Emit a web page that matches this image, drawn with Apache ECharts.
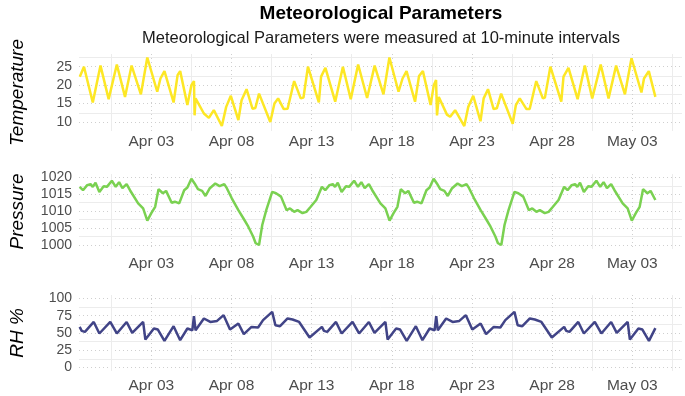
<!DOCTYPE html>
<html>
<head>
<meta charset="utf-8">
<script src="https://cdn.jsdelivr.net/npm/echarts@6/dist/echarts.min.js"></script>
<style>
  html, body { margin: 0; padding: 0; background: #fff; }
  #chart { width: 685px; height: 396px; }
</style>
</head>
<body>
<div id="chart"></div>
<script>
// x values are days counted from Mar 29, 00:00 (UTC)
const startDate = Date.UTC(2021, 2, 29)
const monthNames = ['Jan', 'Feb', 'Mar', 'Apr', 'May', 'Jun', 'Jul', 'Aug', 'Sep', 'Oct', 'Nov', 'Dec']
const dayTicks = [5, 10, 15, 20, 25, 30, 35]
const dayMinor = [2.5, 7.5, 12.5, 17.5, 22.5, 27.5, 32.5, 37.5]

const temperature = [
  [0.54, 22.3], [0.80, 25.0], [1.35, 15.3], [1.83, 25.3], [2.34, 16.2], [2.85, 25.6], [3.36, 16.8], [3.77, 25.3],
  [4.35, 17.5], [4.75, 27.5], [5.37, 18.2], [5.57, 21.8], [5.82, 23.8], [6.39, 15.3], [6.64, 22.7], [6.80, 23.8],
  [7.25, 14.6], [7.50, 20.0], [7.66, 21.1], [7.70, 11.8], [7.76, 16.4], [8.28, 12.3], [8.59, 11.1], [8.90, 13.2],
  [9.40, 8.9], [9.67, 14.1], [9.96, 17.1], [10.43, 10.5], [10.63, 15.9], [10.94, 18.9], [11.31, 13.6], [11.49, 13.8],
  [11.72, 17.7], [12.42, 10.0], [12.68, 15.0], [12.91, 16.4], [13.26, 13.5], [13.50, 13.6], [13.91, 21.1], [14.32, 16.4],
  [14.49, 16.6], [14.77, 25.0], [15.45, 15.3], [15.59, 22.3], [15.86, 24.7], [16.47, 15.5], [16.95, 25.0], [17.44, 16.2],
  [17.90, 25.6], [18.46, 16.5], [18.93, 25.3], [19.48, 17.5], [19.85, 27.5], [20.42, 18.2], [20.67, 21.8], [20.92, 23.8],
  [21.45, 15.5], [21.70, 22.5], [21.94, 23.8], [22.42, 14.6], [22.62, 20.0], [22.76, 21.4], [22.82, 11.8], [22.93, 16.8],
  [23.44, 12.0], [23.64, 11.4], [23.95, 13.2], [24.52, 8.9], [24.77, 14.1], [25.08, 17.1], [25.53, 10.2], [25.73, 16.4],
  [26.00, 18.9], [26.35, 13.5], [26.55, 13.7], [26.82, 17.7], [27.54, 9.5], [27.74, 14.6], [27.98, 16.4], [28.40, 13.5],
  [28.60, 13.5], [29.01, 21.1], [29.42, 16.4], [29.55, 16.6], [29.89, 25.0], [30.57, 15.5], [30.71, 22.3], [31.02, 24.7],
  [31.59, 16.2], [32.04, 25.3], [32.50, 16.4], [33.03, 25.6], [33.52, 16.4], [33.99, 25.3], [34.54, 17.5], [34.95, 27.3],
  [35.57, 18.0], [35.73, 21.8], [36.03, 23.8], [36.44, 16.8]
]

const pressure = [
  [0.53, 1017.2], [0.74, 1016.2], [1.00, 1017.7], [1.21, 1018.0], [1.35, 1017.2], [1.52, 1018.4], [1.76, 1015.7], [2.03, 1017.4],
  [2.23, 1017.2], [2.54, 1019.0], [2.78, 1017.2], [2.99, 1018.6], [3.20, 1016.8], [3.46, 1018.0], [3.67, 1016.2], [4.18, 1012.3],
  [4.49, 1010.8], [4.75, 1007.2], [5.00, 1009.4], [5.24, 1011.3], [5.45, 1016.5], [5.72, 1015.3], [5.92, 1016.0], [6.27, 1012.5],
  [6.47, 1012.8], [6.74, 1012.3], [7.05, 1016.2], [7.25, 1017.0], [7.50, 1019.6], [7.70, 1018.2], [7.91, 1016.5], [8.17, 1016.0],
  [8.38, 1014.5], [8.65, 1016.8], [8.99, 1018.2], [9.26, 1017.4], [9.55, 1018.0], [9.71, 1016.8], [10.02, 1013.8], [10.43, 1010.3],
  [10.74, 1007.9], [11.05, 1005.4], [11.35, 1002.5], [11.51, 1000.5], [11.72, 1000.0], [11.92, 1005.9], [12.17, 1010.3], [12.54, 1015.7],
  [12.78, 1015.3], [13.09, 1014.3], [13.44, 1010.3], [13.65, 1010.8], [13.91, 1009.8], [14.12, 1010.3], [14.43, 1009.4], [14.67, 1009.8],
  [14.94, 1011.3], [15.29, 1013.3],
  [15.64, 1017.2], [15.85, 1016.2], [16.11, 1017.7], [16.32, 1018.0], [16.46, 1017.2], [16.63, 1018.4], [16.87, 1015.7], [17.14, 1017.4],
  [17.34, 1017.2], [17.65, 1019.0], [17.89, 1017.2], [18.10, 1018.6], [18.31, 1016.8], [18.57, 1018.0], [18.78, 1016.2], [19.29, 1012.3],
  [19.60, 1010.8], [19.86, 1007.2], [20.11, 1009.4], [20.35, 1011.3], [20.56, 1016.5], [20.83, 1015.3], [21.03, 1016.0], [21.38, 1012.5],
  [21.58, 1012.8], [21.85, 1012.3], [22.16, 1016.2], [22.36, 1017.0], [22.61, 1019.6], [22.81, 1018.2], [23.02, 1016.5], [23.28, 1016.0],
  [23.49, 1014.5], [23.76, 1016.8], [24.10, 1018.2], [24.37, 1017.4], [24.66, 1018.0], [24.82, 1016.8], [25.13, 1013.8], [25.54, 1010.3],
  [25.85, 1007.9], [26.16, 1005.4], [26.46, 1002.5], [26.62, 1000.5], [26.83, 1000.0], [27.03, 1005.9], [27.28, 1010.3], [27.65, 1015.7],
  [27.89, 1015.3], [28.20, 1014.3], [28.55, 1010.3], [28.76, 1010.8], [29.02, 1009.8], [29.23, 1010.3], [29.54, 1009.4], [29.78, 1009.8],
  [30.05, 1011.3], [30.40, 1013.3],
  [30.75, 1017.2], [30.96, 1016.2], [31.22, 1017.7], [31.43, 1018.0], [31.57, 1017.2], [31.74, 1018.4], [31.98, 1015.7], [32.25, 1017.4],
  [32.45, 1017.2], [32.76, 1019.0], [33.00, 1017.2], [33.21, 1018.6], [33.42, 1016.8], [33.68, 1018.0], [33.89, 1016.2], [34.40, 1012.3],
  [34.71, 1010.8], [34.97, 1007.2], [35.22, 1009.4], [35.46, 1011.3], [35.67, 1016.5], [35.94, 1015.3], [36.14, 1016.0], [36.44, 1013.3]
]

const humidity = [
  [0.53, 58.8], [0.66, 53], [0.86, 51.6], [1.41, 66], [1.76, 49.3], [2.44, 66], [2.85, 49.3], [3.46, 66],
  [3.81, 50.1], [4.49, 66], [4.63, 40.6], [5.16, 56.5], [5.41, 55], [5.82, 38.6], [6.39, 59.9], [6.80, 39.6],
  [7.25, 56.5], [7.56, 54], [7.66, 74.3], [7.76, 54], [8.28, 71], [8.68, 66], [9.10, 67.5], [9.51, 75.8],
  [9.91, 55], [10.43, 63.8], [10.77, 48.3], [11.25, 58.8], [11.66, 58], [11.97, 68.6], [12.54, 80.6], [12.74, 61.3],
  [13.03, 59.9], [13.50, 71], [13.81, 69.6], [14.22, 66], [14.87, 43.5],
  [15.64, 58.8], [15.77, 53], [15.97, 51.6], [16.52, 66], [16.87, 49.3], [17.55, 66], [17.96, 49.3], [18.57, 66],
  [18.92, 50.1], [19.60, 66], [19.74, 40.6], [20.27, 56.5], [20.52, 55], [20.93, 38.6], [21.50, 59.9], [21.91, 39.6],
  [22.36, 56.5], [22.67, 54], [22.77, 74.3], [22.87, 54], [23.39, 71], [23.79, 66], [24.21, 67.5], [24.62, 75.8],
  [25.02, 55], [25.54, 63.8], [25.88, 48.3], [26.36, 58.8], [26.77, 58], [27.08, 68.6], [27.65, 80.6], [27.85, 61.3],
  [28.14, 59.9], [28.61, 71], [28.92, 69.6], [29.33, 66], [29.98, 43.5],
  [30.75, 58.8], [30.88, 53], [31.08, 51.6], [31.63, 66], [31.98, 49.3], [32.66, 66], [33.07, 49.3], [33.68, 66],
  [34.03, 50.1], [34.71, 66], [34.85, 40.6], [35.38, 56.5], [35.63, 55], [36.04, 38.6], [36.44, 57]
]

const tempTicks = [10, 15, 20, 25]
const tempMinor = [12.5, 17.5, 22.5, 27.5]
const pressureTicks = [1000, 1005, 1010, 1015, 1020]
const pressureMinor = [1002.5, 1007.5, 1012.5, 1017.5]
const humidityTicks = [0, 25, 50, 75, 100]
const humidityMinor = [12.5, 37.5, 62.5, 87.5]

function dayLabel(d) {
  const t = new Date(startDate + d * 86400000)
  return monthNames[t.getUTCMonth()] + ' ' + String(t.getUTCDate()).padStart(2, '0')
}

const panels = [
  { name: 'Temperature', data: temperature, color: '#FDE725', top: 54, height: 77, min: 7.55, max: 28.45, ticks: tempTicks, minor: tempMinor, labelGap: 3 },
  { name: 'Pressure', data: pressure, color: '#7AD151', top: 174, height: 75, min: 998.8, max: 1021.0, ticks: pressureTicks, minor: pressureMinor, labelGap: 7 },
  { name: 'RH %', data: humidity, color: '#414487', top: 295, height: 76, min: -5, max: 105, ticks: humidityTicks, minor: humidityMinor, labelGap: 7 },
]

const xMin = 0.49
const xMax = 38.1
const majorLine = { color: '#cfcfcf', width: 1, type: [1, 3] }
const minorLine = { color: '#ececec', width: 1 }

const grid = []
const xAxis = []
const yAxis = []
const series = []

panels.forEach((p, i) => {
  grid.push({ left: 70, width: 612, top: p.top, height: p.height })

  xAxis.push({
    type: 'value', gridIndex: i, position: 'bottom', min: xMin, max: xMax,
    axisLine: { show: false },
    axisTick: { show: false, customValues: dayMinor },
    axisLabel: { show: false },
    splitLine: { show: true, lineStyle: minorLine },
  })
  xAxis.push({
    type: 'value', gridIndex: i, position: 'bottom', min: xMin, max: xMax,
    axisLine: { show: false },
    axisTick: { show: false, customValues: dayTicks },
    axisLabel: { color: '#4d4d4d', fontSize: 15.5, customValues: dayTicks, formatter: dayLabel, margin: p.labelGap },
    splitLine: { show: true, lineStyle: majorLine },
  })

  yAxis.push({
    type: 'value', gridIndex: i, position: 'left', min: p.min, max: p.max,
    axisLine: { show: false },
    axisTick: { show: false, customValues: p.minor },
    axisLabel: { show: false },
    splitLine: { show: true, lineStyle: minorLine },
  })
  yAxis.push({
    type: 'value', gridIndex: i, position: 'left', min: p.min, max: p.max,
    name: p.name,
    nameLocation: 'middle',
    nameRotate: 90,
    nameGap: 52,
    nameTextStyle: { color: '#000', fontSize: 19, fontStyle: 'italic' },
    axisLine: { show: false },
    axisTick: { show: false, customValues: p.ticks },
    axisLabel: { color: '#4d4d4d', fontSize: 14, customValues: p.ticks, margin: 7, formatter: v => String(v) },
    splitLine: { show: true, lineStyle: majorLine },
  })

  series.push({
    name: p.name,
    type: 'line',
    xAxisIndex: i * 2 + 1,
    yAxisIndex: i * 2 + 1,
    data: p.data,
    showSymbol: false,
    lineStyle: { color: p.color, width: 2.5 },
    itemStyle: { color: p.color },
  })
})

const chart = echarts.init(document.getElementById('chart'))
chart.setOption({
  animation: false,
  backgroundColor: '#fff',
  textStyle: { fontFamily: 'Liberation Sans' },
  title: [
    {
      text: 'Meteorological Parameters',
      left: 376, textAlign: 'center', top: -1,
      textStyle: { fontSize: 19, fontWeight: 'bold', color: '#000' },
    },
    {
      text: 'Meteorological Parameters were measured at 10-minute intervals',
      left: 376, textAlign: 'center', top: 25,
      textStyle: { fontSize: 16.5, fontWeight: 'normal', color: '#1a1a1a' },
    },
  ],
  grid,
  xAxis,
  yAxis,
  series,
})
</script>
</body>
</html>
